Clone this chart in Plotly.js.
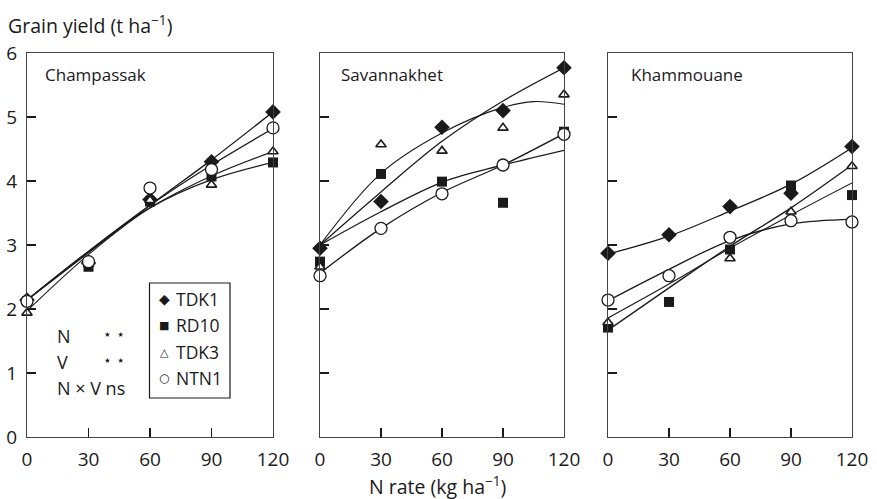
<!DOCTYPE html>
<html>
<head>
<meta charset="utf-8">
<script src="https://cdn.plot.ly/plotly-3.0.1.min.js"></script>
<style>html,body{margin:0;padding:0;background:#fff;}#chart{width:877px;height:499px;}</style>
</head>
<body>
<div id="chart"></div>
<script>
// ---- data ----
const nRates = [0, 30, 60, 90, 120];
const varieties = ["TDK1", "RD10", "TDK3", "NTN1"];
const legendGlyphs = ["◆", "■", "△", "○"];
const panelNames = ["Champassak", "Savannakhet", "Khammouane"];
const statLabels = ["N", "V", "N × V ns"];
const statSignif = ["⋆ ⋆", "⋆ ⋆", ""];

// observed grain yield (t/ha)
const champ_TDK1 = [2.14, 2.72, 3.71, 4.30, 5.08];
const champ_RD10 = [2.12, 2.66, 3.68, 4.07, 4.29];
const champ_TDK3 = [1.94, 2.70, 3.70, 3.94, 4.46];
const champ_NTN1 = [2.12, 2.74, 3.89, 4.18, 4.83];

const sav_TDK1 = [2.95, 3.68, 4.84, 5.10, 5.77];
const sav_RD10 = [2.74, 4.11, 3.99, 3.66, 4.77];
const sav_TDK3 = [2.66, 4.57, 4.47, 4.83, 5.35];
const sav_NTN1 = [2.52, 3.26, 3.80, 4.25, 4.73];

const kham_TDK1 = [2.87, 3.16, 3.60, 3.81, 4.54];
const kham_RD10 = [1.71, 2.11, 2.93, 3.93, 3.78];
const kham_TDK3 = [1.79, 2.53, 2.79, 3.52, 4.23];
const kham_NTN1 = [2.14, 2.52, 3.12, 3.38, 3.36];

// fitted response curves
const champFitX = [0, 30, 60, 90, 120];
const champFit_TDK1 = [2.14, 2.88, 3.62, 4.33, 5.08];
const champFit_RD10 = [2.14, 2.90, 3.58, 4.02, 4.29];
const champFit_TDK3 = [1.97, 2.85, 3.58, 4.08, 4.46];
const champFit_NTN1 = [2.14, 2.90, 3.62, 4.25, 4.82];

const savFitX = [0, 30, 60, 90, 120];
const savFitX_TDK3 = [0, 30, 60, 90, 105, 120];
const savFit_TDK1 = [3.00, 3.83, 4.62, 5.25, 5.77];
const savFit_RD10 = [3.00, 3.52, 3.98, 4.25, 4.48];
const savFit_TDK3 = [3.00, 4.12, 4.75, 5.15, 5.24, 5.20];
const savFit_NTN1 = [2.56, 3.26, 3.82, 4.25, 4.74];

const khamFitX = [0, 30, 60, 90, 120];
const khamFit_TDK1 = [2.86, 3.14, 3.53, 3.95, 4.52];
const khamFit_RD10 = [1.67, 2.33, 2.98, 3.58, 4.25];
const khamFit_TDK3 = [1.86, 2.39, 2.95, 3.47, 3.97];
const khamFit_NTN1 = [2.13, 2.62, 3.07, 3.33, 3.40];

const xTicks = [0, 30, 60, 90, 120];
const yTicks = [0, 1, 2, 3, 4, 5, 6];

// ---- styling ----
const FONT = "Open Sans, Noto Sans, sans-serif";
const INK = "#1a1a1a";
const markerStyle = {
  TDK1: {symbol: "diamond", size: 12, color: INK, line: {color: INK, width: 0}},
  RD10: {symbol: "square", size: 10, color: INK, line: {color: INK, width: 0}},
  TDK3: {symbol: "triangle-up", size: 9, color: "#fff", line: {color: INK, width: 1.6}},
  NTN1: {symbol: "circle", size: 12, color: "#fff", line: {color: INK, width: 1.3}}
};

const obs = [
  {TDK1: champ_TDK1, RD10: champ_RD10, TDK3: champ_TDK3, NTN1: champ_NTN1},
  {TDK1: sav_TDK1, RD10: sav_RD10, TDK3: sav_TDK3, NTN1: sav_NTN1},
  {TDK1: kham_TDK1, RD10: kham_RD10, TDK3: kham_TDK3, NTN1: kham_NTN1}
];
const fits = [
  {TDK1: [champFitX, champFit_TDK1], RD10: [champFitX, champFit_RD10], TDK3: [champFitX, champFit_TDK3], NTN1: [champFitX, champFit_NTN1]},
  {TDK1: [savFitX, savFit_TDK1], RD10: [savFitX, savFit_RD10], TDK3: [savFitX_TDK3, savFit_TDK3], NTN1: [savFitX, savFit_NTN1]},
  {TDK1: [khamFitX, khamFit_TDK1], RD10: [khamFitX, khamFit_RD10], TDK3: [khamFitX, khamFit_TDK3], NTN1: [khamFitX, khamFit_NTN1]}
];
const fitWidth = {TDK1: 1.3, RD10: 1.3, TDK3: 1.1, NTN1: 1.3};

const traces = [];
const axSuffix = ["", "2", "3"];
for (let p = 0; p < 3; p++) {
  for (const v of varieties) {
    traces.push({
      x: fits[p][v][0], y: fits[p][v][1], mode: "lines",
      line: {color: INK, width: fitWidth[v], shape: "spline", smoothing: 1},
      xaxis: "x" + axSuffix[p], yaxis: "y" + axSuffix[p],
      showlegend: false, hoverinfo: "skip", cliponaxis: false
    });
  }
}
for (let p = 0; p < 3; p++) {
  for (const v of varieties) {
    traces.push({
      x: nRates, y: obs[p][v], mode: "markers", name: v,
      marker: markerStyle[v],
      xaxis: "x" + axSuffix[p], yaxis: "y" + axSuffix[p],
      showlegend: false, cliponaxis: false
    });
  }
}

// ---- layout ----
const L = 27, R = 852, T = 53, B = 437;
const W = R - L, H = B - T;
const px2x = px => (px - L) / W;
const px2y = py => (B - py) / H;

const domains = [[px2x(27), px2x(273)], [px2x(320), px2x(564)], [px2x(608), px2x(852)]];

function xAxis(i) {
  return {
    domain: domains[i], range: [0, 120], tickvals: xTicks, ticktext: xTicks.map(String),
    ticks: "inside", ticklen: 9, tickwidth: 1.5, tickcolor: INK,
    showline: true, mirror: true, linecolor: "#444", linewidth: 1.2,
    showgrid: false, zeroline: false, anchor: "y" + axSuffix[i],
    ticklabelstandoff: 5,
    tickfont: {family: FONT, size: 19, color: INK}, fixedrange: true
  };
}
function yAxis(i) {
  return {
    domain: [0, 1], range: [0, 6], tickvals: yTicks, ticktext: yTicks.map(String),
    ticks: "inside", ticklen: 9, tickwidth: 1.5, tickcolor: INK,
    showline: true, mirror: true, linecolor: "#444", linewidth: 1.2,
    showgrid: false, zeroline: false, anchor: "x" + axSuffix[i],
    showticklabels: i === 0, ticklabelstandoff: 5,
    tickfont: {family: FONT, size: 19, color: INK}, fixedrange: true
  };
}

const ann = [];
function addText(text, px, py, size, xanchor, family) {
  ann.push({text: text, xref: "paper", yref: "paper", x: px2x(px), y: px2y(py),
    xanchor: xanchor || "left", yanchor: "middle", showarrow: false,
    font: {family: family || FONT, size: size, color: INK}});
}
addText("Grain yield (t ha<sup>−1</sup>)", 6, 25, 19.5);
addText("N rate (kg ha<sup>−1</sup>)", 437, 485, 19.5, "center");
addText(panelNames[0], 43, 74, 17);
addText(panelNames[1], 339, 74, 17);
addText(panelNames[2], 629, 74, 17);

// statistics note
const statY = [336, 362, 388];
for (let i = 0; i < statLabels.length; i++) {
  addText(statLabels[i], 55, statY[i], 18);
  if (statSignif[i]) addText(statSignif[i], 101, statY[i] - 2, 14, "left", "DejaVu Sans");
}

// legend (box + glyph keys + names)
const legY = [299, 325, 352, 378];
const glyphSize = [14, 11, 11, 12];
for (let i = 0; i < varieties.length; i++) {
  addText(legendGlyphs[i], 164, legY[i], glyphSize[i], "center", "DejaVu Sans");
  addText(varieties[i], 174, legY[i], 17.5);
}

const layout = {
  width: 877, height: 499,
  margin: {l: L, r: 877 - R, t: T, b: 499 - B, pad: 0},
  paper_bgcolor: "#fff", plot_bgcolor: "#fff",
  font: {family: FONT, color: INK},
  showlegend: false,
  xaxis: xAxis(0), xaxis2: xAxis(1), xaxis3: xAxis(2),
  yaxis: yAxis(0), yaxis2: yAxis(1), yaxis3: yAxis(2),
  annotations: ann,
  shapes: [{type: "rect", xref: "paper", yref: "paper",
    x0: px2x(149.5), x1: px2x(230), y0: px2y(283), y1: px2y(398),
    line: {color: INK, width: 1.2}, fillcolor: "rgba(0,0,0,0)", layer: "above"}]
};

Plotly.newPlot("chart", traces, layout, {displayModeBar: false, staticPlot: true});
</script>
</body>
</html>
